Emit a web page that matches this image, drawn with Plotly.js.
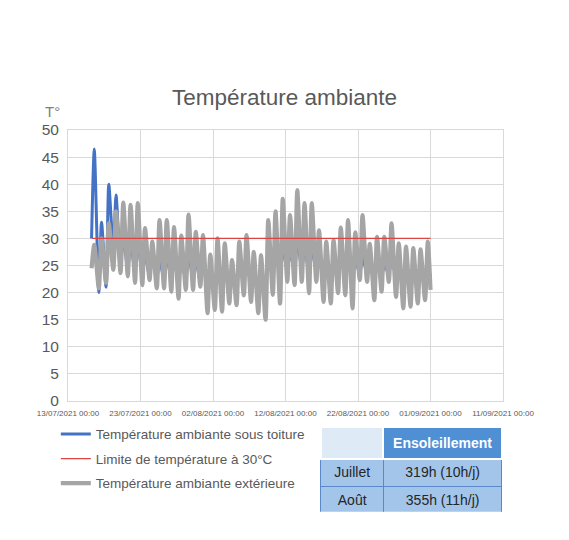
<!DOCTYPE html>
<html>
<head>
<meta charset="utf-8">
<script src="https://cdn.plot.ly/plotly-3.0.1.min.js"></script>
<style>
  html, body { margin: 0; padding: 0; background: #ffffff; }
  #chart { width: 569px; height: 540px; }
</style>
</head>
<body>
<div id="chart"></div>
<script>
// Days of measurement (16/07 -> 31/08), one low (morning) and one high (afternoon) per day
const days = [
    '2021-07-16', '2021-07-17', '2021-07-18', '2021-07-19', '2021-07-20', '2021-07-21',
    '2021-07-22', '2021-07-23', '2021-07-24', '2021-07-25', '2021-07-26', '2021-07-27',
    '2021-07-28', '2021-07-29', '2021-07-30', '2021-07-31', '2021-08-01', '2021-08-02',
    '2021-08-03', '2021-08-04', '2021-08-05', '2021-08-06', '2021-08-07', '2021-08-08',
    '2021-08-09', '2021-08-10', '2021-08-11', '2021-08-12', '2021-08-13', '2021-08-14',
    '2021-08-15', '2021-08-16', '2021-08-17', '2021-08-18', '2021-08-19', '2021-08-20',
    '2021-08-21', '2021-08-22', '2021-08-23', '2021-08-24', '2021-08-25', '2021-08-26',
    '2021-08-27', '2021-08-28', '2021-08-29', '2021-08-30', '2021-08-31'
];
const endTime = '2021-09-01 00:00';

// Température ambiante extérieure
const outdoorLow = [
    24.5, 20.8, 21.8, 24.2, 23.6, 23.0, 21.8, 21.4, 22.3, 20.8, 20.8, 20.2,
    18.9, 20.5, 20.5, 21.1, 16.2, 16.8, 16.5, 18.0, 17.7, 19.5, 18.3, 16.2,
    15.0, 19.6, 18.0, 22.0, 21.4, 22.0, 19.9, 22.0, 18.3, 18.0, 19.9, 19.5,
    17.1, 22.3, 22.0, 18.6, 20.2, 22.0, 19.2, 17.1, 17.4, 18.0, 18.6
];
const outdoorHigh = [
    28.8, 30.0, 32.8, 35.0, 36.6, 36.2, 36.5, 31.9, 29.4, 33.4, 33.4, 32.1,
    30.5, 34.4, 31.2, 30.6, 27.0, 30.0, 29.1, 26.0, 29.4, 30.6, 27.5, 26.9,
    33.4, 35.0, 37.3, 34.3, 38.9, 36.5, 36.5, 31.5, 29.4, 29.7, 32.0, 33.4,
    31.1, 34.3, 29.0, 30.3, 30.3, 32.8, 29.1, 28.5, 28.2, 28.0, 29.4
];
const outdoorEnd = 20.5;

// Température ambiante sous toiture
const roofLow = [
    30.0, 20.0, 21.0, 28.0, 25.0, 24.5, 24.0, 23.5, 23.0, 22.5, 22.5, 22.5,
    22.0, 22.5, 22.5, 22.0, 21.5, 21.5, 21.5, 22.0, 21.5, 22.5, 22.0, 21.5,
    22.0, 23.0, 23.5, 24.0, 24.0, 24.5, 24.0, 24.0, 23.0, 23.0, 23.0, 23.5,
    23.0, 23.5, 23.5, 23.0, 23.0, 23.5, 23.0, 22.5, 22.5, 22.5, 22.5
];
const roofHigh = [
    46.5, 33.0, 40.0, 38.0, 30.0, 29.0, 29.0, 27.0, 26.5, 26.0, 26.5, 26.0,
    25.5, 27.0, 26.0, 25.5, 24.0, 25.0, 24.5, 24.5, 24.0, 25.0, 24.0, 24.0,
    26.0, 27.0, 28.0, 27.5, 29.5, 28.0, 28.0, 26.5, 25.0, 25.0, 26.0, 27.0,
    26.0, 26.5, 25.5, 25.0, 25.0, 26.0, 25.0, 24.5, 24.5, 24.5, 24.5
];
const roofEnd = 23.0;

// Limite de température à 30°C
const limitTimes = ['2021-07-16 08:00', '2021-09-01 00:00'];
const limitValues = [30, 30];

// Tableau d'ensoleillement
const sunMonths = ['Juillet', 'Août'];
const sunHours = ['319h (10h/j)', '355h (11h/j)'];

const textGrey = '#595959';
const gridGrey = '#d9d9d9';
const font = 'Liberation Sans, Arial, sans-serif';

function dailySeries(low, high, last) {
    const x = [];
    const y = [];
    days.forEach((d, i) => {
        x.push(d + ' 06:00'); y.push(low[i]);
        x.push(d + ' 15:00'); y.push(high[i]);
    });
    x.push(endTime); y.push(last);
    return { x, y };
}

const roof = dailySeries(roofLow, roofHigh, roofEnd);
const outdoor = dailySeries(outdoorLow, outdoorHigh, outdoorEnd);

const traces = [
    {
        x: roof.x, y: roof.y, type: 'scatter', mode: 'lines',
        name: 'Température ambiante sous toiture',
        line: { color: '#4472c4', width: 3, shape: 'spline', smoothing: 0.7 },
        legendgroup: 'a', legendrank: 1
    },
    {
        x: outdoor.x, y: outdoor.y, type: 'scatter', mode: 'lines',
        name: 'Température ambiante extérieure',
        line: { color: '#a5a5a5', width: 4.2, shape: 'spline', smoothing: 0.7 },
        legendgroup: 'c', legendrank: 3
    },
    {
        x: limitTimes, y: limitValues, type: 'scatter', mode: 'lines',
        name: 'Limite de température à 30°C',
        line: { color: '#dc4444', width: 1.3 },
        legendgroup: 'b', legendrank: 2
    },
    {
        type: 'table',
        domain: { x: [0.5816, 0.9977], y: [0.008, 0.229] },
        columnwidth: [62, 118],
        header: {
            values: ['', '<b>Ensoleillement</b>'],
            fill: { color: [['#dfeaf7'], ['#4f8fd4']] },
            line: { color: '#ffffff', width: 2 },
            font: { family: font, size: 14, color: '#ffffff' },
            align: 'center',
            height: 28
        },
        cells: {
            values: [sunMonths, sunHours],
            fill: { color: '#a3c5ea' },
            line: { color: '#5b88c8', width: 1 },
            font: { family: font, size: 14, color: '#262626' },
            align: 'center',
            height: 28
        }
    }
];

const layout = {
    width: 569,
    height: 540,
    margin: { l: 68, r: 66, t: 130, b: 25 },
    paper_bgcolor: '#ffffff',
    plot_bgcolor: '#ffffff',
    font: { family: font, color: textGrey },
    title: {
        text: 'Température ambiante',
        font: { family: font, size: 22.5, color: textGrey },
        x: 0.5, xref: 'container', xanchor: 'center',
        y: 1 - 97 / 540, yref: 'container', yanchor: 'middle'
    },
    xaxis: {
        type: 'date',
        range: ['2021-07-13', '2021-09-11'],
        tick0: '2021-07-13',
        dtick: 10 * 24 * 3600 * 1000,
        tickformat: '%d/%m/%Y %H:%M',
        tickfont: { family: font, size: 8, color: textGrey },
        ticklabelstandoff: 4,
        showgrid: true, gridcolor: gridGrey, gridwidth: 1,
        showline: true, linecolor: gridGrey, mirror: true,
        ticks: '', zeroline: false, fixedrange: true
    },
    yaxis: {
        domain: [0.296, 1],
        range: [0, 50],
        dtick: 5,
        tickfont: { family: font, size: 15.5, color: textGrey },
        ticklabelstandoff: 5,
        showgrid: true, gridcolor: gridGrey, gridwidth: 1,
        showline: true, linecolor: gridGrey, mirror: true,
        ticks: '', zeroline: false, fixedrange: true
    },
    showlegend: true,
    legend: {
        x: -0.028, xanchor: 'left',
        y: 0.25, yanchor: 'top',
        traceorder: 'grouped',
        tracegroupgap: 4,
        font: { family: font, size: 13.5, color: textGrey },
        bgcolor: 'rgba(0,0,0,0)'
    },
    annotations: [
        {
            text: 'T°', xref: 'paper', yref: 'paper',
            x: (52 - 68) / 435, y: 1 + 19 / 385,
            xanchor: 'center', yanchor: 'middle', showarrow: false,
            font: { family: font, size: 15, color: '#7f7f7f' }
        }
    ]
};

Plotly.newPlot('chart', traces, layout, { displayModeBar: false, staticPlot: true });
</script>
</body>
</html>
